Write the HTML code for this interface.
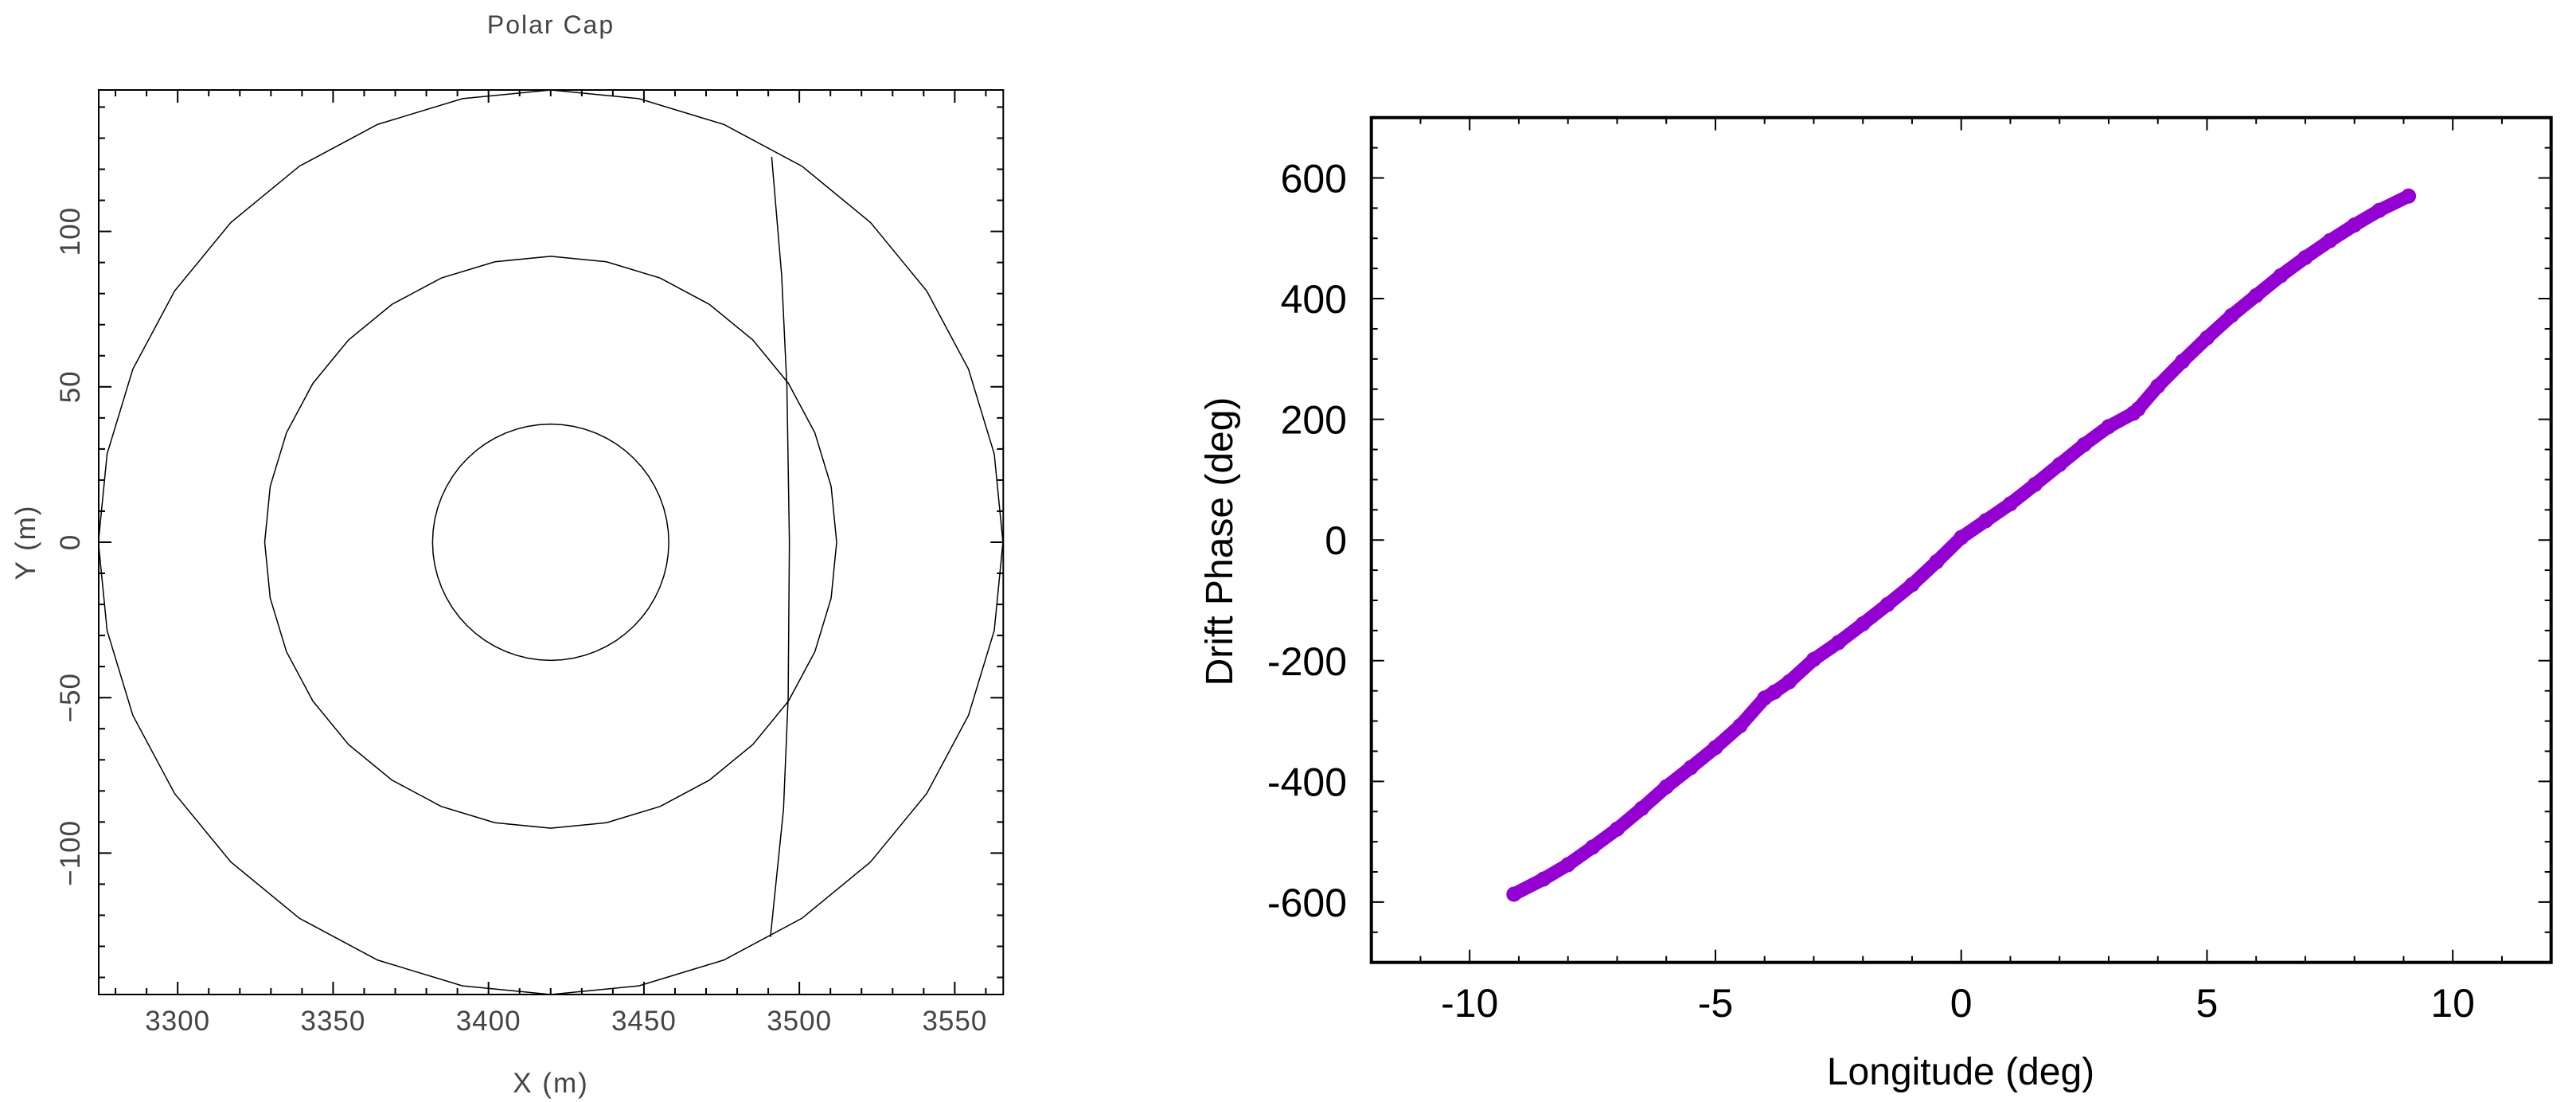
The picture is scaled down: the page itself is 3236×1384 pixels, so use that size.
<!DOCTYPE html>
<html><head><meta charset="utf-8">
<style>
html,body{margin:0;padding:0;background:#fff;}
svg{display:block;}
</style></head>
<body>
<svg id="fig" xmlns="http://www.w3.org/2000/svg" width="3236" height="1384" viewBox="0 0 3236 1384">
<rect x="0" y="0" width="3236" height="1384" fill="#fff"/>
<g id="left"></g>
<g id="right"></g>
</svg>
<script>
// ---- Left chart data ----
const capRadii = [145.5, 92, 38];
const capSegments = [32, 32, 64];
const capCenterX = 3420;
const capCenterY = 0;
const driftX = [3491.1, 3494.3, 3496.0, 3496.8, 3496.4, 3494.9, 3490.7];
const driftY = [124, 86, 50, 0, -50, -86, -127];
const leftXTicks = [3300, 3350, 3400, 3450, 3500, 3550];
const leftYTicks = [-100, -50, 0, 50, 100];

// ---- Right chart data ----
const lonValues = [-9.1,-8.5,-8,-7.5,-7,-6.5,-6,-5.5,-5,-4.5,-4,-3.8,-3.5,-3,-2.5,-2,-1.5,-1,-0.5,0,0.5,1,1.5,2,2.5,3,3.5,3.6,4,4.5,5,5.5,6,6.5,7,7.5,8,8.5,9.1];
const phaseValues = [-587,-562,-538,-509,-479,-445,-409,-377,-344,-308,-262,-252,-235,-198,-170,-139,-107,-74,-36,4,32,60,92,125,158,188,210,217,255,296,335,372,405,438,468,496,522,546,570];
const rightXTicks = [-10,-5,0,5,10];
const rightYTicks = [-600,-400,-200,0,200,400,600];

const NS = "http://www.w3.org/2000/svg";
function mk(parent, tag, attrs){const e=document.createElementNS(NS,tag);for(const k in attrs)e.setAttribute(k,attrs[k]);parent.appendChild(e);return e;}

// ================= LEFT =================
(function(){
  const g=document.getElementById('left');
  const L=124,R=1260.3,T=113,B=1249;
  const x0=3274.6,x1=3565.6,y0=-145.5,y1=145.5;
  const sx=v=>L+(v-x0)/(x1-x0)*(R-L);
  const sy=v=>B-(v-y0)/(y1-y0)*(B-T);
  const gray="#444";
  const fr=mk(g,'rect',{x:L,y:T,width:R-L,height:B-T,fill:'none',stroke:'#000','stroke-width':2});
  
  
  for(let v=3280;v<=3560;v+=10){
    const major=(v%50===0);const len=major?16:8;
    const t1=mk(g,'line',{x1:sx(v),y1:B,x2:sx(v),y2:B-len,stroke:'#000','stroke-width':2});
    
    const t2=mk(g,'line',{x1:sx(v),y1:T,x2:sx(v),y2:T+len,stroke:'#000','stroke-width':2});
    
  }
  for(let v=-140;v<=140;v+=10){
    const major=(v%50===0);const len=major?16:8;
    const t1=mk(g,'line',{x1:L,y1:sy(v),x2:L+len,y2:sy(v),stroke:'#000','stroke-width':2});
    
    const t2=mk(g,'line',{x1:R,y1:sy(v),x2:R-len,y2:sy(v),stroke:'#000','stroke-width':2});
    
  }
  leftXTicks.forEach(v=>{
    const t=mk(g,'text',{x:sx(v),y:1294,'text-anchor':'middle','font-family':'Liberation Sans, sans-serif','font-size':35,fill:gray,'letter-spacing':1});
    t.textContent=v;
  });
  leftYTicks.forEach(v=>{
    const t=mk(g,'text',{x:0,y:0,transform:`translate(100,${sy(v)}) rotate(-90)`,'text-anchor':'middle','font-family':'Liberation Sans, sans-serif','font-size':35,fill:gray,'letter-spacing':1});
    t.textContent=(v<0?'\u2212'+(-v):v);
  });
  const title=mk(g,'text',{x:692,y:42,'text-anchor':'middle','font-family':'Liberation Sans, sans-serif','font-size':32,fill:gray,'letter-spacing':2});
  title.textContent='Polar Cap';
  const xl=mk(g,'text',{x:692,y:1372,'text-anchor':'middle','font-family':'Liberation Sans, sans-serif','font-size':35,fill:gray,'letter-spacing':2});
  xl.textContent='X (m)';
  const yl=mk(g,'text',{x:0,y:0,transform:`translate(44,681) rotate(-90)`,'text-anchor':'middle','font-family':'Liberation Sans, sans-serif','font-size':35,fill:gray,'letter-spacing':2});
  yl.textContent='Y (m)';
  capRadii.forEach((r,i)=>{
    const n=capSegments[i];let pts=[];
    for(let k=0;k<=n;k++){const a=2*Math.PI*k/n;pts.push(sx(capCenterX+r*Math.sin(a))+','+sy(capCenterY+r*Math.cos(a)));}
    const p=mk(g,'polyline',{points:pts.join(' '),fill:'none',stroke:'#000','stroke-width':1.5});
    
  });
  const dp=driftX.map((v,i)=>sx(v)+','+sy(driftY[i])).join(' ');
  const d=mk(g,'polyline',{points:dp,fill:'none',stroke:'#000','stroke-width':1.5});
  
})();

// ================= RIGHT =================
(function(){
  const g=document.getElementById('right');
  const L=1722.7,R=3204.7,T=147.7,B=1208.7;
  const x0=-12,x1=12,y0=-700,y1=700;
  const sx=v=>L+(v-x0)/(x1-x0)*(R-L);
  const sy=v=>B-(v-y0)/(y1-y0)*(B-T);
  const font='Liberation Sans, sans-serif';
  for(let v=-11;v<=11;v+=1){
    const major=(v%5===0);const len=major?16:8;
    const a=mk(g,'line',{x1:sx(v),y1:B,x2:sx(v),y2:B-len,stroke:'#000','stroke-width':2});
    
    const b=mk(g,'line',{x1:sx(v),y1:T,x2:sx(v),y2:T+len,stroke:'#000','stroke-width':2});
    
  }
  for(let v=-650;v<=650;v+=50){
    const major=(v%200===0);const len=major?16:8;
    const a=mk(g,'line',{x1:L,y1:sy(v),x2:L+len,y2:sy(v),stroke:'#000','stroke-width':2});
    
    const b=mk(g,'line',{x1:R,y1:sy(v),x2:R-len,y2:sy(v),stroke:'#000','stroke-width':2});
    
  }
  const fr=mk(g,'rect',{x:L,y:T,width:R-L,height:B-T,fill:'none',stroke:'#000','stroke-width':4});
  
  rightXTicks.forEach(v=>{
    const t=mk(g,'text',{x:sx(v),y:1277,'text-anchor':'middle','font-family':font,'font-size':50,fill:'#000'});
    t.textContent=v;
  });
  rightYTicks.forEach(v=>{
    const t=mk(g,'text',{x:1692,y:sy(v)+18,'text-anchor':'end','font-family':font,'font-size':50,fill:'#000'});
    t.textContent=v;
  });
  const xl=mk(g,'text',{x:2463,y:1362,'text-anchor':'middle','font-family':font,'font-size':48,fill:'#000'});
  xl.textContent='Longitude (deg)';
  const yl=mk(g,'text',{x:0,y:0,transform:`translate(1548,680) rotate(-90)`,'text-anchor':'middle','font-family':font,'font-size':48,fill:'#000'});
  yl.textContent='Drift Phase (deg)';
  const pts=lonValues.map((v,i)=>sx(v)+','+sy(phaseValues[i])).join(' ');
  const line=mk(g,'polyline',{points:pts,fill:'none',stroke:'#9400D3','stroke-width':17,'stroke-linecap':'round','stroke-linejoin':'round'});
  
  lonValues.forEach((v,i)=>{
    const c=mk(g,'circle',{cx:sx(v),cy:sy(phaseValues[i]),r:9.5,fill:'#9400D3'});
    
    
  });
})();
</script>
</body></html>
